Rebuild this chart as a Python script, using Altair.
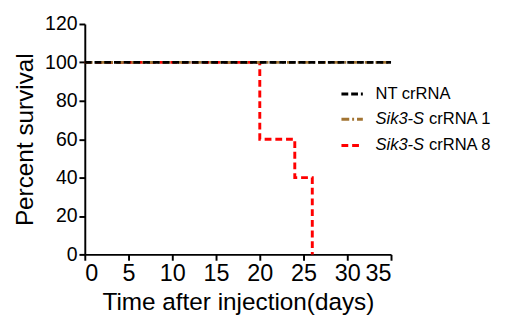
import altair as alt
import pandas as pd

# Data
series_names = ["NT crRNA", "Sik3-S crRNA 1", "Sik3-S crRNA 8"]
nt_days = [0, 35]
nt_surv = [100, 100]
c1_days = [0, 35]
c1_surv = [100, 100]
c8_days = [0, 20, 24, 26]
c8_surv = [100, 60, 40, 0]

x_ticks = [0, 5, 10, 15, 20, 25, 30, 35]
y_ticks = [0, 20, 40, 60, 80, 100, 120]

colors = ["#000000", "#a27432", "#ff0000"]
dashes = [[7, 3], [8, 3, 2, 3], [7, 4]]

rows = []
for name, dd, ss in [(series_names[0], nt_days, nt_surv),
                     (series_names[1], c1_days, c1_surv),
                     (series_names[2], c8_days, c8_surv)]:
    for d, s in zip(dd, ss):
        rows.append({"series": name, "day": d, "surv": s})
df = pd.DataFrame(rows)

FONT = "Liberation Sans"

x_enc = alt.X("day:Q", scale=alt.Scale(domain=[0, 35], nice=False),
              axis=alt.Axis(values=x_ticks, title="Time after injection(days)",
                            grid=False))
y_enc = alt.Y("surv:Q", scale=alt.Scale(domain=[0, 120], nice=False),
              axis=alt.Axis(values=y_ticks, title="Percent survival", grid=False))

layers = []
for i in [2, 1, 0]:
    name = series_names[i]
    layers.append(
        alt.Chart(df).transform_filter(alt.datum.series == name)
        .mark_line(interpolate="step-after", color=colors[i], strokeWidth=3,
                   strokeDash=dashes[i])
        .encode(x=x_enc, y=y_enc)
    )

# Manual legend (mixed italic / roman labels)
leg_x1, leg_x2, leg_tx = 264, 286, 299
leg_y = [72, 98, 125]
italic_part = ["", "Sik3-S", "Sik3-S"]
roman_part = ["NT crRNA", "crRNA 1", "crRNA 8"]
roman_offset = [0, 55, 55]

for i in range(3):
    layers.append(
        alt.Chart(pd.DataFrame({"a": [0]})).mark_rule(
            color=colors[i], strokeWidth=3, strokeDash=dashes[i])
        .encode(x=alt.value(leg_x1), x2=alt.value(leg_x2), y=alt.value(leg_y[i]))
    )
    if italic_part[i]:
        layers.append(
            alt.Chart(pd.DataFrame({"t": [italic_part[i]]})).mark_text(
                align="left", baseline="middle", font=FONT, fontSize=17,
                fontStyle="italic", color="#000000")
            .encode(x=alt.value(leg_tx), y=alt.value(leg_y[i]), text="t:N")
        )
    layers.append(
        alt.Chart(pd.DataFrame({"t": [roman_part[i]]})).mark_text(
            align="left", baseline="middle", font=FONT, fontSize=17,
            color="#000000")
        .encode(x=alt.value(leg_tx + roman_offset[i]), y=alt.value(leg_y[i]),
                text="t:N")
    )

chart = alt.layer(*layers).properties(
    width=315, height=237,
    padding={"left": 5, "top": 2, "right": 5, "bottom": 0}
).configure_view(stroke=None).configure_axis(
    domainColor="#000000", domainWidth=2, tickColor="#000000", tickWidth=2,
    tickSize=6, labelFont=FONT, labelColor="#000000",
    titleFont=FONT, titleFontSize=25, titleFontWeight="normal",
    titleColor="#000000", labelPadding=2
).configure_axisY(labelFontSize=20, titlePadding=7).configure_axisX(
    labelFontSize=24, titlePadding=5)

chart.save("out.html", embed_options={"renderer": "svg", "actions": False})
